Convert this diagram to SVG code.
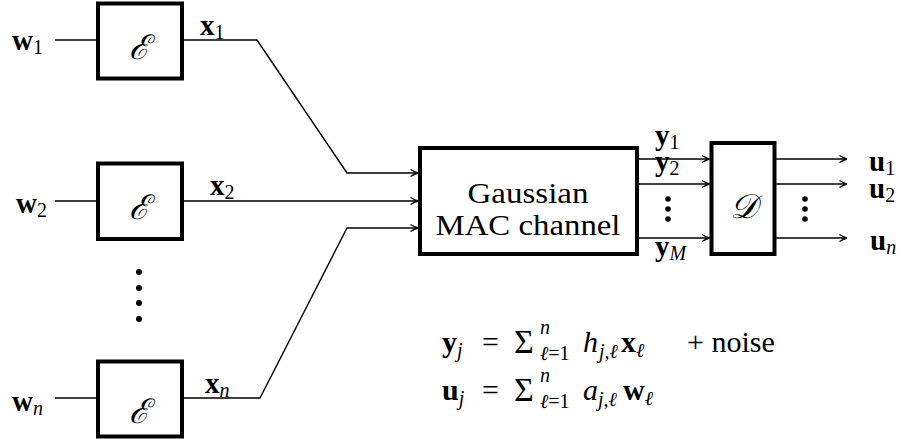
<svg xmlns="http://www.w3.org/2000/svg" width="907" height="443" viewBox="0 0 907 443" font-family="Liberation Serif, DejaVu Serif, serif">
<style>
.box{fill:#fff;stroke:#000;stroke-width:4}
.ln{fill:none;stroke:#000;stroke-width:1.4}
.b{font-weight:bold;font-size:29px}
.s{font-size:20px}
.i{font-style:italic}
.cal{font-style:italic;font-size:34px}
.big{font-size:30px}
.sig{font-size:34px}
</style>
<defs>
<marker id="arr" markerWidth="10" markerHeight="10" refX="9" refY="5" orient="auto" markerUnits="userSpaceOnUse">
<path d="M1.5,1.5 Q6,4.3 9,5 Q6,5.7 1.5,8.5" fill="none" stroke="#000" stroke-width="1.3"/>
</marker>
</defs>
<g id="connectors">
<path class="ln" d="M55,40 H98"/>
<path class="ln" d="M55,201 H98"/>
<path class="ln" d="M55,398 H98"/>
<path class="ln" d="M182,40 H257 L347,173 H418" marker-end="url(#arr)"/>
<path class="ln" d="M182,201 H418" marker-end="url(#arr)"/>
<path class="ln" d="M182,398 H260 L347,228 H418" marker-end="url(#arr)"/>
<path class="ln" d="M637,159 H709.5" marker-end="url(#arr)"/>
<path class="ln" d="M637,184 H709.5" marker-end="url(#arr)"/>
<path class="ln" d="M637,238 H709.5" marker-end="url(#arr)"/>
<path class="ln" d="M776,159 H847" marker-end="url(#arr)"/>
<path class="ln" d="M776,184 H847" marker-end="url(#arr)"/>
<path class="ln" d="M776,238 H847" marker-end="url(#arr)"/>
</g>
<g id="enc1">
<rect class="box" x="98" y="3.5" width="84" height="75"/>
<text class="cal" x="139" y="59" text-anchor="middle">ℰ</text>
</g>
<g id="enc2">
<rect class="box" x="98" y="163.5" width="84" height="75.5"/>
<text class="cal" x="139" y="219" text-anchor="middle">ℰ</text>
</g>
<g id="encn">
<rect class="box" x="98" y="361.5" width="84" height="75"/>
<text class="cal" x="139" y="423" text-anchor="middle">ℰ</text>
</g>
<g id="mac">
<rect class="box" x="420" y="148" width="217" height="106"/>
<text class="big" x="528" y="203" text-anchor="middle" textLength="121" lengthAdjust="spacingAndGlyphs">Gaussian</text>
<text class="big" x="528" y="235" text-anchor="middle" textLength="185" lengthAdjust="spacingAndGlyphs">MAC channel</text>
</g>
<g id="dec">
<rect class="box" x="711.5" y="143" width="63" height="111"/>
<text class="cal" x="743" y="218" text-anchor="middle">𝒟</text>
</g>
<g id="dots">
<circle cx="139" cy="272" r="3"/><circle cx="139" cy="288" r="3"/><circle cx="139" cy="303" r="3"/><circle cx="139" cy="319" r="3"/>
<circle cx="668" cy="199" r="2.8"/><circle cx="668" cy="209" r="2.8"/><circle cx="668" cy="219" r="2.8"/>
<circle cx="805" cy="199" r="2.8"/><circle cx="805" cy="209" r="2.8"/><circle cx="805" cy="219" r="2.8"/>
</g>
<g id="labels">
<text x="12" y="50"><tspan class="b">w</tspan><tspan class="s" dy="4">1</tspan></text>
<text x="200" y="35"><tspan class="b">x</tspan><tspan class="s" dy="4">1</tspan></text>
<text x="16" y="213"><tspan class="b">w</tspan><tspan class="s" dy="4">2</tspan></text>
<text x="210" y="195"><tspan class="b">x</tspan><tspan class="s" dy="4">2</tspan></text>
<text x="12" y="411"><tspan class="b">w</tspan><tspan class="s i" dy="4">n</tspan></text>
<text x="205" y="393"><tspan class="b">x</tspan><tspan class="s i" dy="4">n</tspan></text>
<text x="655" y="145"><tspan class="b">y</tspan><tspan class="s" dy="4">1</tspan></text>
<text x="655" y="171"><tspan class="b">y</tspan><tspan class="s" dy="4">2</tspan></text>
<text x="655" y="256"><tspan class="b">y</tspan><tspan class="s i" dy="4">M</tspan></text>
<text x="869" y="171"><tspan class="b">u</tspan><tspan class="s" dy="4">1</tspan></text>
<text x="869" y="198"><tspan class="b">u</tspan><tspan class="s" dy="4">2</tspan></text>
<text x="870" y="250"><tspan class="b">u</tspan><tspan class="s i" dy="4">n</tspan></text>
</g>
<g id="equations">
<text x="442" y="352"><tspan class="b big">y</tspan><tspan class="s i" dy="5">j</tspan></text>
<text class="big" x="482" y="352">=</text>
<text class="sig" x="514" y="353">Σ</text>
<text class="s i" x="540" y="334">n</text>
<text class="s" x="540" y="360"><tspan class="i">ℓ</tspan>=1</text>
<text class="big i" x="583" y="352">h</text>
<text class="s i" x="599" y="358">j,ℓ</text>
<text x="621" y="352"><tspan class="b big">x</tspan><tspan class="s i" dy="5">ℓ</tspan></text>
<text class="big" x="687" y="352">+ noise</text>
<text x="442" y="400"><tspan class="b big">u</tspan><tspan class="s i" dy="5">j</tspan></text>
<text class="big" x="482" y="400">=</text>
<text class="sig" x="514" y="401">Σ</text>
<text class="s i" x="540" y="382">n</text>
<text class="s" x="540" y="408"><tspan class="i">ℓ</tspan>=1</text>
<text class="big i" x="583" y="400">a</text>
<text class="s i" x="598" y="406">j,ℓ</text>
<text x="623" y="400"><tspan class="b big">w</tspan><tspan class="s i" dy="5">ℓ</tspan></text>
</g>
</svg>
